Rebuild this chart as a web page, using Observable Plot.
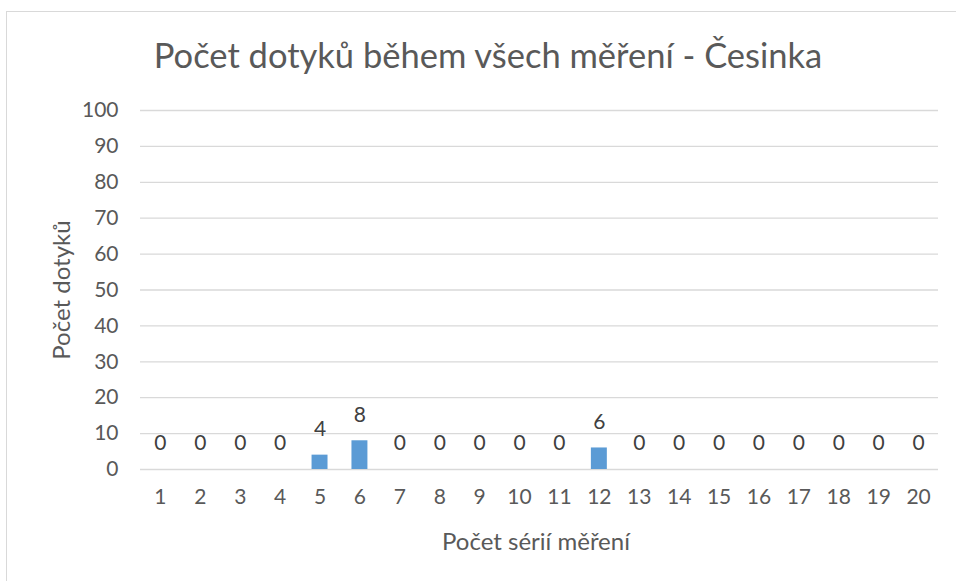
<!DOCTYPE html>
<html>
<head>
<meta charset="utf-8">
<script src="https://cdn.jsdelivr.net/npm/d3@7"></script>
<script src="https://cdn.jsdelivr.net/npm/@observablehq/plot@0.6"></script>
<style>
  html, body { margin: 0; padding: 0; background: #fff; overflow: hidden; }
  #wrap { position: relative; width: 956px; height: 581px; font-family: Lato, "Open Sans", sans-serif; color: #595959; }
  #frame { position: absolute; left: 6px; top: 11px; width: 980px; height: 600px; border: 1px solid #d9d9d9; box-sizing: border-box; }
  #title { position: absolute; left: 0; top: 34px; width: 976px; text-align: center; font-size: 34.5px; color: #595959; }
  #ytitle { position: absolute; left: 60px; top: 290px; transform: translate(-50%, -50%) rotate(-90deg); font-size: 24px; white-space: nowrap; }
  #xtitle { position: absolute; left: 536px; top: 540px; transform: translate(-50%, -50%); font-size: 24px; white-space: nowrap; }
  #chart { position: absolute; left: 0; top: 0; width: 956px; }
</style>
</head>
<body>
<div id="wrap">
  <div id="frame"></div>
  <div id="chart"></div>
  <div id="title">Počet dotyků během všech měření - Česinka</div>
  <div id="ytitle">Počet dotyků</div>
  <div id="xtitle">Počet sérií měření</div>
</div>
<script>
const series = [1,2,3,4,5,6,7,8,9,10,11,12,13,14,15,16,17,18,19,20];
const touches = [0,0,0,0,4,8,0,0,0,0,0,6,0,0,0,0,0,0,0,0];
const yTicks = [0,10,20,30,40,50,60,70,80,90,100];

const data = series.map((s, i) => ({series: s, touches: touches[i]}));

const chart = Plot.plot({
  width: 956,
  height: 581,
  marginLeft: 140,
  marginRight: 18,
  marginTop: 110,
  marginBottom: 112,
  style: {fontFamily: "Lato, 'Open Sans', sans-serif", fontSize: "21px", color: "#595959", background: "transparent"},
  x: {type: "band", domain: series, padding: 0.6, range: [128, 950], round: false, label: null},
  y: {domain: [0, 100], label: null},
  marks: [
    Plot.gridY(yTicks, {stroke: "#d9d9d9", strokeOpacity: 1, strokeWidth: 1.3}),
    Plot.barY(data, {x: "series", y: "touches", fill: "#5b9bd5"}),
    Plot.text(data, {x: "series", y: "touches", text: d => String(d.touches), dy: -26, fill: "#404040", fontSize: 21}),
    Plot.axisY(yTicks, {tickSize: 0, tickPadding: 22, fontSize: 21, fill: "#595959", label: null}),
    Plot.axisX(series, {tickSize: 0, tickPadding: 20, fontSize: 21, fill: "#595959", label: null})
  ]
});
document.getElementById("chart").appendChild(chart);
</script>
</body>
</html>
